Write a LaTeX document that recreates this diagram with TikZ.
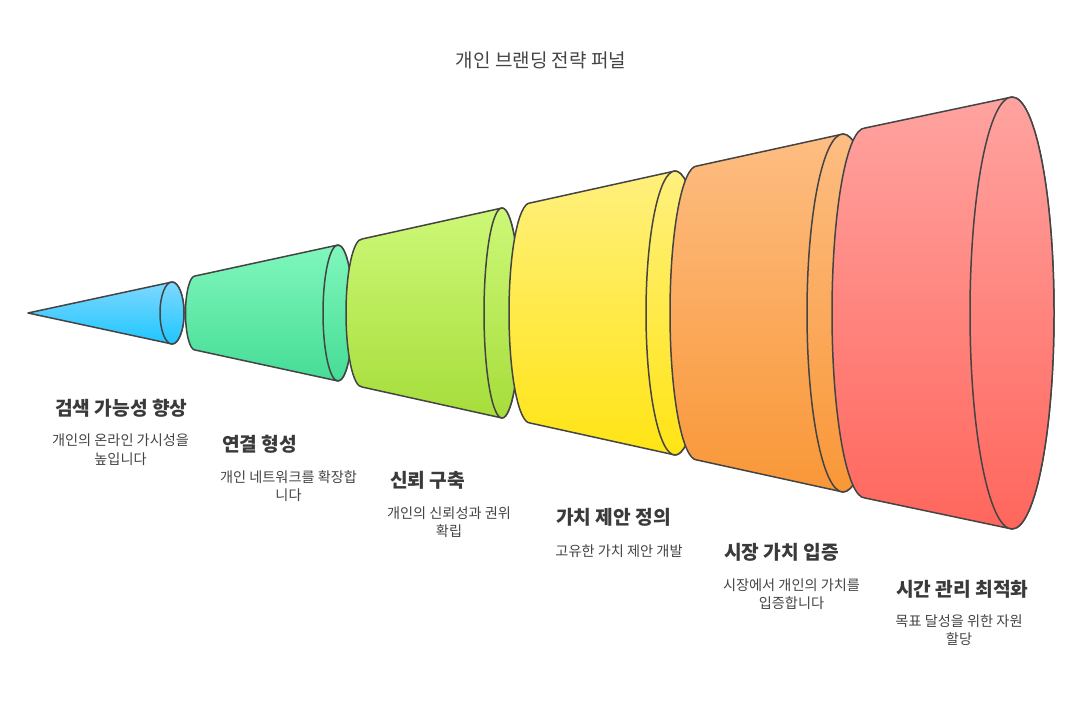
\documentclass[tikz,border=0pt]{standalone}
\usepackage{fontspec}
\setmainfont{Noto Sans CJK KR}
\usetikzlibrary{shadings}
\definecolor{edge}{HTML}{444444}
\definecolor{txt}{HTML}{3A3A3A}
\definecolor{dtxt}{HTML}{444444}
\definecolor{c1t}{HTML}{7ED8FF}\definecolor{c1b}{HTML}{1EC6FF}
\definecolor{c2t}{HTML}{80F7BC}\definecolor{c2b}{HTML}{45DC96}
\definecolor{c3t}{HTML}{CDF877}\definecolor{c3b}{HTML}{A6DD3A}
\definecolor{c4t}{HTML}{FFF07E}\definecolor{c4b}{HTML}{FFE414}
\definecolor{c5t}{HTML}{FDBD82}\definecolor{c5b}{HTML}{F99737}
\definecolor{c6t}{HTML}{FFA3A0}\definecolor{c6b}{HTML}{FF665C}
\tikzset{
  seg/.style={draw=edge, line width=1.5pt, line join=round},
  headtitle/.style={font=\fontsize{19}{22}\selectfont, text=dtxt, inner sep=0pt},
  steptitle/.style={font=\fontsize{19.2}{22}\selectfont\bfseries, text=txt, anchor=west, inner sep=0pt},
  stepdesc/.style={font=\fontsize{14.2}{18.5}\selectfont, text=dtxt, align=center, inner sep=0pt},
}
\begin{document}
\begin{tikzpicture}[x=1pt,y=1pt]
\useasboundingbox (0,-410) rectangle (1082,313);
% segment 1 (cone)
\path[seg, top color=c1t, bottom color=c1b] (28,0) -- (172,31)
  arc[start angle=90, end angle=-90, x radius=12pt, y radius=31pt] -- cycle;
\path[seg, top color=c1t, bottom color=c1b] (172,0) ellipse[x radius=12pt, y radius=31pt];
% segment 2
\path[seg, top color=c2t, bottom color=c2b] (195,37) -- (338,68)
  arc[start angle=90, end angle=-90, x radius=15pt, y radius=68pt] -- (195,-37)
  arc[start angle=270, end angle=90, x radius=9.5pt, y radius=37pt] -- cycle;
\path[seg, top color=c2t, bottom color=c2b] (338,0) ellipse[x radius=15pt, y radius=68pt];
% segment 3
\path[seg, top color=c3t, bottom color=c3b] (362,74) -- (502,105)
  arc[start angle=90, end angle=-90, x radius=18pt, y radius=105pt] -- (362,-74)
  arc[start angle=270, end angle=90, x radius=16pt, y radius=74pt] -- cycle;
\path[seg, top color=c3t, bottom color=c3b] (502,0) ellipse[x radius=18pt, y radius=105pt];
% segment 4
\path[seg, top color=c4t, bottom color=c4b] (530,110) -- (675,142)
  arc[start angle=90, end angle=-90, x radius=29pt, y radius=142pt] -- (530,-110)
  arc[start angle=270, end angle=90, x radius=21pt, y radius=110pt] -- cycle;
\path[seg, top color=c4t, bottom color=c4b] (675,0) ellipse[x radius=29pt, y radius=142pt];
% segment 5
\path[seg, top color=c5t, bottom color=c5b] (697,147) -- (843,179)
  arc[start angle=90, end angle=-90, x radius=36pt, y radius=179pt] -- (697,-147)
  arc[start angle=270, end angle=90, x radius=27pt, y radius=147pt] -- cycle;
\path[seg, top color=c5t, bottom color=c5b] (843,0) ellipse[x radius=36pt, y radius=179pt];
% segment 6
\path[seg, top color=c6t, bottom color=c6b] (865,185) -- (1012,216)
  arc[start angle=90, end angle=-90, x radius=42pt, y radius=216pt] -- (865,-185)
  arc[start angle=270, end angle=90, x radius=33pt, y radius=185pt] -- cycle;
\path[seg, top color=c6t, bottom color=c6b] (1012,0) ellipse[x radius=42pt, y radius=216pt];
% texts
\node[headtitle] (head) at (541,253) {개인 브랜딩 전략 퍼널};
\node[steptitle] (t1) at (55,-95) {검색 가능성 향상};
\node[stepdesc] (d1) at (120.5,-136.5) {개인의 온라인 가시성을\\높입니다};
\node[steptitle] (t2) at (222,-131) {연결 형성};
\node[stepdesc] (d2) at (288.5,-173) {개인 네트워크를 확장합\\니다};
\node[steptitle] (t3) at (390,-167) {신뢰 구축};
\node[stepdesc] (d3) at (449,-209) {개인의 신뢰성과 권위\\확립};
\node[steptitle] (t4) at (556,-204) {가치 제안 정의};
\node[stepdesc] (d4) at (619,-238) {고유한 가치 제안 개발};
\node[steptitle] (t5) at (724,-239) {시장 가치 입증};
\node[stepdesc] (d5) at (791.5,-281) {시장에서 개인의 가치를\\입증합니다};
\node[steptitle] (t6) at (896,-276) {시간 관리 최적화};
\node[stepdesc] (d6) at (959,-317) {목표 달성을 위한 자원\\할당};
\end{tikzpicture}
\end{document}
